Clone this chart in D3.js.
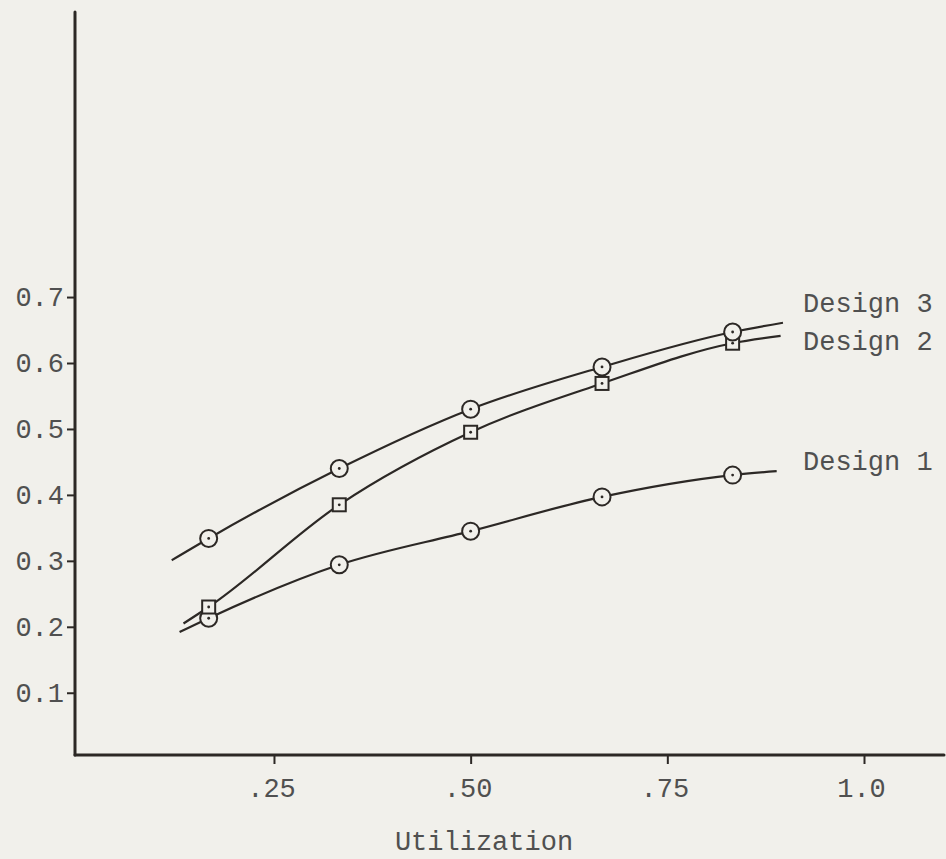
<!DOCTYPE html>
<html>
<head>
<meta charset="utf-8">
<script src="https://cdn.jsdelivr.net/npm/d3@7/dist/d3.min.js"></script>
<style>
  html, body { margin: 0; padding: 0; background: #f1f0eb; }
  svg { display: block; }
</style>
</head>
<body>
<script>

// data
let utilization = [0.167, 0.333, 0.5, 0.667, 0.833];

let design1 = [0.213, 0.294, 0.345, 0.397, 0.430];
let design2 = [0.230, 0.385, 0.495, 0.569, 0.630];
let design3 = [0.334, 0.440, 0.530, 0.594, 0.647];

// where each fitted curve starts and stops: [utilization, value]
let design1Ends = [[0.130, 0.192], [0.889, 0.436]];
let design2Ends = [[0.135, 0.205], [0.894, 0.641]];
let design3Ends = [[0.120, 0.301], [0.897, 0.661]];

let seriesNames = ['Design 1', 'Design 2', 'Design 3'];

let xTicks = [0.25, 0.5, 0.75, 1.0];
let xTickLabels = ['.25', '.50', '.75', '1.0'];
let yTicks = [0.1, 0.2, 0.3, 0.4, 0.5, 0.6, 0.7];


// dimensions
let width = 946,
    height = 859;

let ink = '#2c2825',
    textInk = '#505050',
    font = '"Liberation Mono", "Courier New", monospace',
    fontSize = '27px';

let svg = d3.select('body').append('svg')
    .attr('width', width)
    .attr('height', height);


//scales
let xScale = d3.scaleLinear()
    .domain([0, 1])
    .range([77.3, 864]);

let yScale = d3.scaleLinear()
    .domain([0, 0.1])
    .range([758.7, 692.75]);

let axisX = 75,
    axisY = 755;


// series table
let series = [
    {name: seriesNames[0], values: design1, ends: design1Ends, marker: 'circle', labelDy: -1},
    {name: seriesNames[1], values: design2, ends: design2Ends, marker: 'square', labelDy: 14},
    {name: seriesNames[2], values: design3, ends: design3Ends, marker: 'circle', labelDy: -11}
].map(s => {
    s.points = utilization.map((u, i) => [u, s.values[i]]);
    s.curve = [s.ends[0]].concat(s.points).concat([s.ends[1]]);
    return s;
});


//axes
let yAxis = svg.append('g')
    .attr('transform', `translate(${axisX},0)`)
    .call(d3.axisLeft(yScale)
        .tickValues(yTicks)
        .tickSize(8)
        .tickPadding(3)
        .tickFormat(d3.format('.1f')));

yAxis.select('.domain').remove();
yAxis.selectAll('line').attr('stroke', ink).attr('stroke-width', 2);
yAxis.selectAll('text')
    .attr('font-family', font)
    .attr('font-size', fontSize)
    .attr('fill', textInk);

svg.append('line')
    .attr('x1', axisX)
    .attr('y1', 12)
    .attr('x2', axisX)
    .attr('y2', axisY)
    .attr('stroke', ink)
    .attr('stroke-width', 3)
    .attr('stroke-linecap', 'round');

let xAxis = svg.append('g')
    .attr('transform', `translate(0,${axisY})`)
    .call(d3.axisBottom(xScale)
        .tickValues(xTicks)
        .tickSize(9)
        .tickPadding(14)
        .tickFormat((d, i) => xTickLabels[i]));

xAxis.select('.domain').remove();
xAxis.selectAll('line').attr('stroke', ink).attr('stroke-width', 2);
xAxis.selectAll('text')
    .attr('dx', -3)
    .attr('font-family', font)
    .attr('font-size', fontSize)
    .attr('fill', textInk);

svg.append('line')
    .attr('x1', axisX)
    .attr('y1', axisY)
    .attr('x2', width - 2)
    .attr('y2', axisY)
    .attr('stroke', ink)
    .attr('stroke-width', 3)
    .attr('stroke-linecap', 'round');

svg.append('text')
    .attr('x', 484)
    .attr('y', 850)
    .attr('text-anchor', 'middle')
    .attr('font-family', font)
    .attr('font-size', fontSize)
    .attr('fill', textInk)
    .text('Utilization');


//curves
let line = d3.line()
    .x(d => xScale(d[0]))
    .y(d => yScale(d[1]))
    .curve(d3.curveMonotoneX);

let groups = svg.selectAll('g.series')
    .data(series)
    .enter().append('g')
    .attr('class', 'series');

groups.append('path')
    .attr('d', d => line(d.curve))
    .attr('fill', 'none')
    .attr('stroke', ink)
    .attr('stroke-width', 2.2);


//markers
let markers = groups.selectAll('g.marker')
    .data(d => d.points.map(p => ({p: p, marker: d.marker})))
    .enter().append('g')
    .attr('class', 'marker')
    .attr('transform', d => `translate(${xScale(d.p[0])},${yScale(d.p[1])})`);

markers.filter(d => d.marker === 'circle')
    .append('circle')
    .attr('r', 8.5)
    .attr('fill', '#f1f0eb')
    .attr('stroke', ink)
    .attr('stroke-width', 2);

markers.filter(d => d.marker === 'square')
    .append('rect')
    .attr('x', -6.5)
    .attr('y', -6.5)
    .attr('width', 13)
    .attr('height', 13)
    .attr('fill', '#f1f0eb')
    .attr('stroke', ink)
    .attr('stroke-width', 2);

markers.append('circle')
    .attr('r', 1.4)
    .attr('fill', ink);


//labels at the right end of each curve
groups.append('text')
    .attr('x', 803)
    .attr('y', d => yScale(d.ends[1][1]) + d.labelDy)
    .attr('font-family', font)
    .attr('font-size', fontSize)
    .attr('fill', textInk)
    .text(d => d.name);

</script>
</body>
</html>
